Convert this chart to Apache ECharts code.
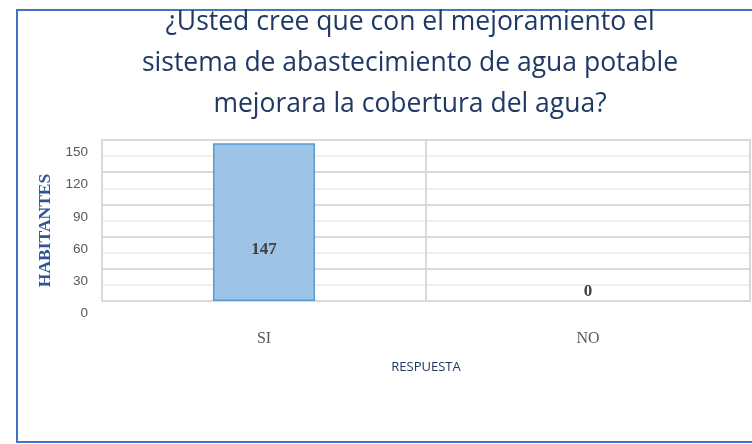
<!DOCTYPE html>
<html>
<head>
<meta charset="utf-8">
<script src="https://cdn.jsdelivr.net/npm/echarts@6/dist/echarts.min.js"></script>
<style>
  html, body { margin: 0; padding: 0; background: #ffffff; }
  #chart { width: 752px; height: 444px; }
</style>
</head>
<body>
<div id="chart"></div>
<script>
// Survey answers and the number of residents for each one
const categories = ['SI', 'NO'];
const habitantes = [147, 0];
const yTicks = [0, 30, 60, 90, 120, 150];

const titleText = '¿Usted cree que con el mejoramiento el\nsistema de abastecimiento de agua potable\nmejorara la cobertura del agua?';

// Value labels: the tall bar carries its label inside, the empty one sits on the base
const labelStyles = [
  { position: 'insideBottom', distance: 43 },
  { position: 'top', distance: 1 }
];

const seriesData = habitantes.map((v, i) => ({
  value: v,
  label: labelStyles[i],
  // a zero-height bar shows no outline on the base line
  itemStyle: v === 0 ? { borderWidth: 0 } : undefined
}));

const chart = echarts.init(document.getElementById('chart'), null, { renderer: 'canvas' });

chart.setOption({
  backgroundColor: '#ffffff',
  animation: false,
  graphic: [{
    type: 'rect',
    z: -1,
    silent: true,
    shape: { x: 17, y: 10, width: 800, height: 432 },
    style: { fill: 'none', stroke: '#4472c4', lineWidth: 2 }
  }],
  title: {
    text: titleText,
    left: 410,
    top: 2,
    padding: 0,
    textAlign: 'center',
    textStyle: {
      fontFamily: '"Open Sans", sans-serif',
      fontWeight: 'normal',
      fontSize: 26.5,
      lineHeight: 41,
      color: '#203864'
    }
  },
  grid: {
    left: 102,
    right: 2,
    top: 140,
    bottom: 143,
    show: true,
    borderColor: '#d9d9d9',
    borderWidth: 2,
    containLabel: false
  },
  xAxis: {
    type: 'category',
    data: categories,
    name: 'RESPUESTA',
    nameLocation: 'middle',
    nameGap: 60,
    nameTextStyle: {
      fontFamily: '"Open Sans", sans-serif',
      fontSize: 13,
      color: '#203864'
    },
    axisLine: { show: false },
    axisTick: { show: false },
    axisLabel: {
      margin: 30,
      fontFamily: '"Liberation Serif", "Times New Roman", serif',
      fontSize: 16,
      color: '#595959'
    },
    splitLine: { show: true, interval: 0, lineStyle: { color: '#d9d9d9', width: 2 } }
  },
  yAxis: {
    type: 'value',
    min: yTicks[0],
    max: yTicks[yTicks.length - 1],
    interval: yTicks[1] - yTicks[0],
    name: 'HABITANTES',
    nameLocation: 'middle',
    nameGap: 36,
    nameRotate: 90,
    nameTextStyle: {
      fontFamily: '"Liberation Serif", "Times New Roman", serif',
      fontWeight: 'bold',
      fontSize: 17.5,
      color: '#2f5597',
      padding: [0, 20, 0, 0]
    },
    axisLine: { show: false },
    axisTick: { show: false },
    axisLabel: {
      margin: 14,
      showMinLabel: true,
      showMaxLabel: true,
      // tick values hang just below their grid line
      verticalAlign: 'top',
      lineHeight: 25,
      fontFamily: '"Liberation Sans", sans-serif',
      fontSize: 13.5,
      color: '#595959'
    },
    splitLine: { show: true, lineStyle: { color: '#d9d9d9', width: 2 } },
    minorTick: { show: false, splitNumber: 2 },
    minorSplitLine: { show: true, lineStyle: { color: '#efefef', width: 2 } }
  },
  series: [{
    type: 'bar',
    data: seriesData,
    barWidth: '31.5%',
    itemStyle: {
      color: '#9dc3e6',
      borderColor: '#5b9bd5',
      borderWidth: 1.5
    },
    label: {
      show: true,
      fontFamily: '"Liberation Serif", "Times New Roman", serif',
      fontWeight: 'bold',
      fontSize: 17,
      color: '#404040'
    }
  }]
});
</script>
</body>
</html>
